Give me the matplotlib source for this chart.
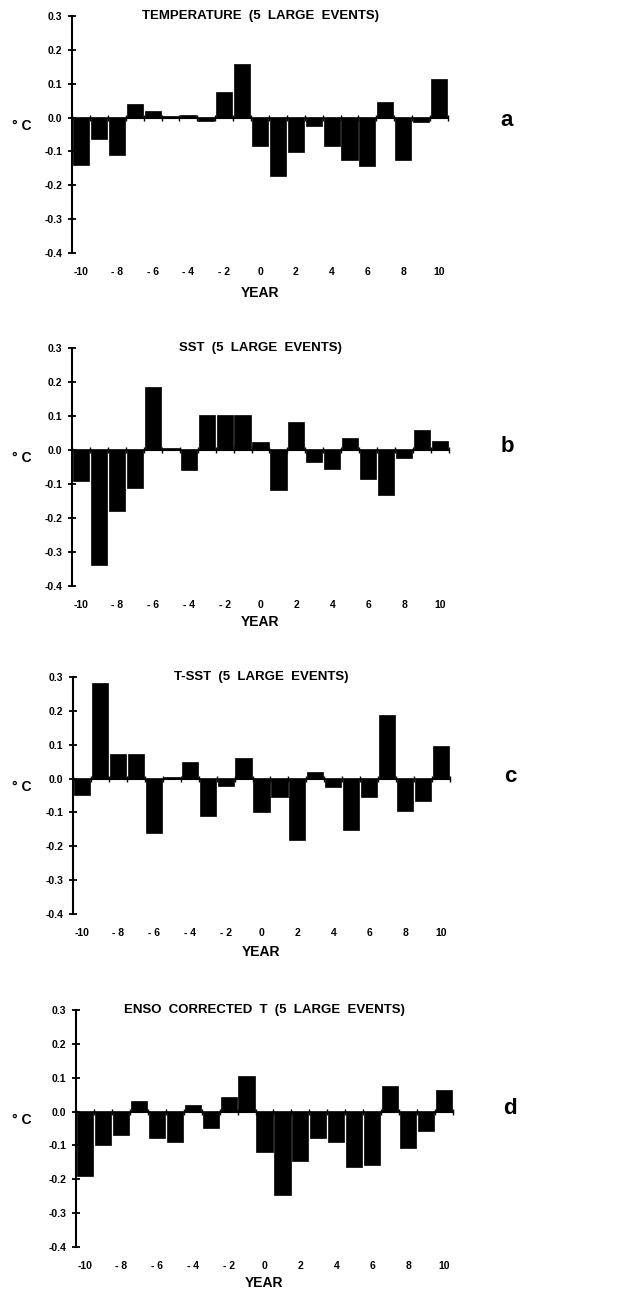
import numpy as np
import matplotlib
matplotlib.use('Agg')
import matplotlib.pyplot as plt

plt.rcParams['font.family'] = ['Liberation Sans', 'DejaVu Sans']

# composite anomalies around large events, year -10 .. +10
years = list(range(-10, 11))

temp = [-0.140, -0.062, -0.111, 0.041, 0.020, 0.005, 0.007, -0.010, 0.076, 0.157,
        -0.083, -0.173, -0.102, -0.025, -0.083, -0.126, -0.143, 0.047, -0.126, -0.013, 0.115]
sst = [-0.091, -0.339, -0.180, -0.111, 0.184, 0.007, -0.060, 0.102, 0.102, 0.104,
       0.024, -0.118, 0.083, -0.035, -0.056, 0.036, -0.086, -0.132, -0.023, 0.058, 0.027]
t_sst = [-0.049, 0.282, 0.074, 0.074, -0.162, 0.006, 0.050, -0.111, -0.023, 0.061,
         -0.100, -0.054, -0.182, 0.019, -0.025, -0.153, -0.055, 0.187, -0.096, -0.066, 0.097]
enso_t = [-0.189, -0.099, -0.069, 0.032, -0.078, -0.090, 0.020, -0.049, 0.043, 0.104,
          -0.119, -0.246, -0.147, -0.078, -0.089, -0.165, -0.158, 0.075, -0.107, -0.057, 0.065]

titles = ['TEMPERATURE  (5  LARGE  EVENTS)', 'SST  (5  LARGE  EVENTS)',
          'T-SST  (5  LARGE  EVENTS)', 'ENSO  CORRECTED  T  (5  LARGE  EVENTS)']
letters = ['a', 'b', 'c', 'd']
series = [temp, sst, t_sst, enso_t]

xtick_vals = list(range(-10, 11, 2))
xtick_labels = ['-10', '- 8', '- 6', '- 4', '- 2', '0', '2', '4', '6', '8', '10']
ytick_vals = [0.3, 0.2, 0.1, 0.0, -0.1, -0.2, -0.3, -0.4]
ytick_labels = ['0.3', '0.2', '0.1', '0.0', '-0.1', '-0.2', '-0.3', '-0.4']

W, H = 619, 1290
fig = plt.figure(figsize=(W / 100, H / 100), dpi=100)

# pixel boxes: left, right, top (0.3), bottom (-0.4)
boxes = [(72, 448, 16, 253), (72, 449, 348, 586), (73, 450, 677, 914), (76, 453, 1010, 1247)]
letter_pos = [(507, 120), (507, 446), (510, 777), (510, 1108)]
year_y = [293, 622, 952, 1283]

for vals, title, letter, box, lp, yy in zip(series, titles, letters, boxes, letter_pos, year_y):
    l, r, t, b = box
    ax = fig.add_axes([l / W, 1 - b / H, (r - l) / W, (b - t) / H])
    ax.bar(years, vals, width=0.9, color='black', edgecolor='black', linewidth=0.5)
    ax.set_xlim(-10.5, 10.5)
    ax.set_ylim(-0.4, 0.3)
    ax.axhline(0, color='black', lw=1.2, zorder=3)

    for s in ['top', 'right', 'bottom']:
        ax.spines[s].set_visible(False)
    ax.spines['left'].set_linewidth(1.5)

    ax.set_yticks(ytick_vals)
    ax.set_yticklabels(ytick_labels)
    ax.tick_params(axis='y', direction='inout', length=6, width=1.3, labelsize=7.5, pad=4)
    ax.set_xticks(xtick_vals)
    ax.set_xticklabels(xtick_labels)
    ax.tick_params(axis='x', length=0, labelsize=7.5, pad=10)
    for lab in ax.get_xticklabels() + ax.get_yticklabels():
        lab.set_fontweight('bold')

    # small tick marks on the zero line between bars
    zero_frac = 0.4 / 0.7
    zx = ax.secondary_xaxis(zero_frac)
    zx.spines['bottom'].set_visible(False)
    zx.set_xticks(np.arange(-10.5, 11.0, 1.0))
    zx.set_xticklabels([])
    zx.tick_params(axis='x', direction='inout', length=4, width=1.0)

    ax.text(0.5, 1.0, title, transform=ax.transAxes, ha='center', va='center',
            fontsize=9.5, fontweight='bold')
    fig.text(lp[0] / W, 1 - lp[1] / H, letter, ha='center', va='center',
             fontsize=16, fontweight='bold')
    zero_px = t + (b - t) * 0.3 / 0.7
    fig.text(22 / W, 1 - (zero_px + 8) / H, '° C', ha='center', va='center',
             fontsize=10, fontweight='bold')
    fig.text((l + r) / 2 / W, 1 - yy / H, 'YEAR', ha='center', va='center',
             fontsize=10, fontweight='bold')

fig.savefig('out.png', dpi=100)
